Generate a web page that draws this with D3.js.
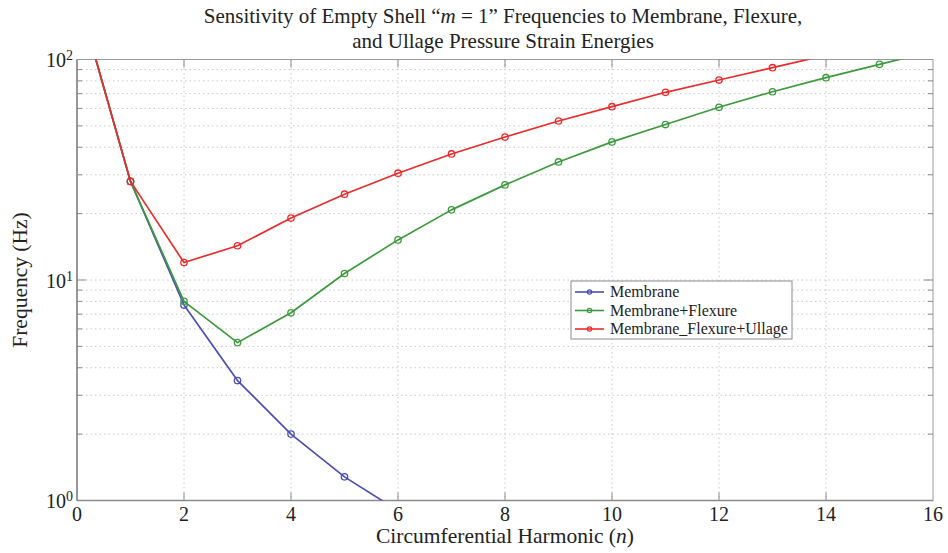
<!DOCTYPE html>
<html>
<head>
<meta charset="utf-8">
<script src="https://cdn.jsdelivr.net/npm/d3@7"></script>
<style>
  body { margin: 0; background: #fff; }
  svg text { font-family: "Liberation Serif", "Times New Roman", serif; fill: #222; }
</style>
</head>
<body>
<svg id="chart" width="948" height="553"></svg>
<script>
// Circumferential harmonic numbers
const harmonics = [0, 1, 2, 3, 4, 5, 6, 7, 8, 9, 10, 11, 12, 13, 14, 15, 16];

// Frequencies (Hz) for each strain-energy model
const membrane = [200, 28, 7.7, 3.5, 2.0, 1.28, 0.90];
const membraneFlexure = [200, 28, 8.0, 5.2, 7.1, 10.7, 15.2, 20.8, 27.0, 34.3, 42.3, 50.7, 60.7, 71.4, 82.7, 95.1, 109];
const membraneFlexureUllage = [200, 28, 12.0, 14.3, 19.1, 24.5, 30.5, 37.3, 44.5, 52.6, 61.1, 71.0, 80.7, 91.8, 104.5];

const seriesNames = ["Membrane", "Membrane+Flexure", "Membrane_Flexure+Ullage"];
const seriesColors = ["#4a4fb5", "#3c9a3c", "#ee2b2b"];

const xTicks = [0, 2, 4, 6, 8, 10, 12, 14, 16];
const yDecades = [1, 10, 100];
const yExponents = ["0", "1", "2"];

const svg = d3.select("#chart");
const pL = 77, pR = 933, pT = 59.5, pB = 500.5;

const x = d3.scaleLinear().domain([0, 16]).range([pL, pR]);
const y = d3.scaleLog().domain([1, 100]).range([pB, pT]);

// minor log positions 2..9 within each decade
const minorY = [];
[1, 10].forEach(d => { for (let k = 2; k <= 9; k++) minorY.push(d * k); });

// Grid
const grid = svg.append("g").attr("stroke", "#c8c8c8").attr("stroke-width", 1).attr("stroke-dasharray", "1.5,3");
grid.selectAll("line.gx").data(xTicks.slice(1, -1)).join("line")
  .attr("x1", d => x(d)).attr("x2", d => x(d)).attr("y1", pT).attr("y2", pB);
grid.selectAll("line.gy").data(minorY.concat([10])).join("line")
  .attr("x1", pL).attr("x2", pR).attr("y1", d => y(d)).attr("y2", d => y(d));

// Frame
svg.append("rect").attr("x", pL).attr("y", pT).attr("width", pR - pL).attr("height", pB - pT)
  .attr("fill", "none").attr("stroke", "#9a9a9a").attr("stroke-width", 1);
svg.append("line").attr("x1", pL).attr("x2", pL).attr("y1", pT).attr("y2", pB)
  .attr("stroke", "#8a8a8a").attr("stroke-width", 1.6);
svg.append("line").attr("x1", pL).attr("x2", pR).attr("y1", pB).attr("y2", pB)
  .attr("stroke", "#8a8a8a").attr("stroke-width", 1.4);

// Inward ticks on all four sides
const ticks = svg.append("g").attr("stroke", "#8a8a8a").attr("stroke-width", 1);
xTicks.slice(1, -1).forEach(t => {
  ticks.append("line").attr("x1", x(t)).attr("x2", x(t)).attr("y1", pB).attr("y2", pB - 8);
  ticks.append("line").attr("x1", x(t)).attr("x2", x(t)).attr("y1", pT).attr("y2", pT + 8);
});
minorY.forEach(t => {
  ticks.append("line").attr("x1", pL).attr("x2", pL + 5).attr("y1", y(t)).attr("y2", y(t));
  ticks.append("line").attr("x1", pR).attr("x2", pR - 5).attr("y1", y(t)).attr("y2", y(t));
});
[10].forEach(t => {
  ticks.append("line").attr("x1", pL).attr("x2", pL + 9).attr("y1", y(t)).attr("y2", y(t));
  ticks.append("line").attr("x1", pR).attr("x2", pR - 9).attr("y1", y(t)).attr("y2", y(t));
});

// X tick labels
svg.append("g").selectAll("text").data(xTicks).join("text")
  .attr("x", d => x(d)).attr("y", pB + 20).attr("text-anchor", "middle")
  .attr("font-size", 20).text(d => d);

// Y tick labels (10 with superscript exponent)
const yl = svg.append("g").selectAll("text").data(yDecades).join("text")
  .attr("x", pL - 4).attr("y", d => y(d) + 7.5).attr("text-anchor", "end").attr("font-size", 20);
yl.append("tspan").text("10");
yl.append("tspan").attr("dy", -7).attr("font-size", 14).text((d, i) => yExponents[i]);

// Axis labels
svg.append("text").attr("x", (pL + pR) / 2).attr("y", 543).attr("text-anchor", "middle")
  .attr("font-size", 21.5)
  .html('Circumferential Harmonic (<tspan font-style="italic">n</tspan>)');
svg.append("text").attr("transform", `translate(27,${(pT + pB) / 2}) rotate(-90)`)
  .attr("text-anchor", "middle").attr("font-size", 21.5).text("Frequency (Hz)");

// Title
const title = svg.append("text").attr("text-anchor", "middle").attr("font-size", 21);
title.append("tspan").attr("x", 503).attr("y", 23)
  .html('Sensitivity of Empty Shell \u201c<tspan font-style="italic">m</tspan> = 1\u201d Frequencies to Membrane, Flexure,');
title.append("tspan").attr("x", 503).attr("y", 48).text("and Ullage Pressure Strain Energies");

// Data
svg.append("clipPath").attr("id", "plotclip").append("rect")
  .attr("x", pL).attr("y", pT).attr("width", pR - pL).attr("height", pB - pT);

const allSeries = [membrane, membraneFlexure, membraneFlexureUllage];
const line = d3.line().x((d, i) => x(harmonics[i])).y(d => y(d));
const plot = svg.append("g").attr("clip-path", "url(#plotclip)");

allSeries.forEach((vals, si) => {
  const g = plot.append("g");
  g.append("path").attr("d", line(vals)).attr("fill", "none")
    .attr("stroke", seriesColors[si]).attr("stroke-width", 1.7).attr("stroke-linejoin", "round");
  g.selectAll("circle").data(vals).join("circle")
    .attr("cx", (d, i) => x(harmonics[i])).attr("cy", d => y(d)).attr("r", 3.2)
    .attr("fill", "none").attr("stroke", seriesColors[si]).attr("stroke-width", 1.3);
});

// Legend
const lg = svg.append("g").attr("transform", "translate(571,281)");
lg.append("rect").attr("width", 221).attr("height", 58).attr("fill", "#fff")
  .attr("stroke", "#8a8a8a").attr("stroke-width", 1);
seriesNames.forEach((name, i) => {
  const yy = 11 + i * 18.5;
  lg.append("line").attr("x1", 4).attr("x2", 33).attr("y1", yy).attr("y2", yy)
    .attr("stroke", seriesColors[i]).attr("stroke-width", 1.6);
  lg.append("circle").attr("cx", 18.5).attr("cy", yy).attr("r", 2.2).attr("fill", "none")
    .attr("stroke", seriesColors[i]).attr("stroke-width", 1.2);
  lg.append("text").attr("x", 39).attr("y", yy + 5).attr("font-size", 16).text(name);
});
</script>
</body>
</html>
